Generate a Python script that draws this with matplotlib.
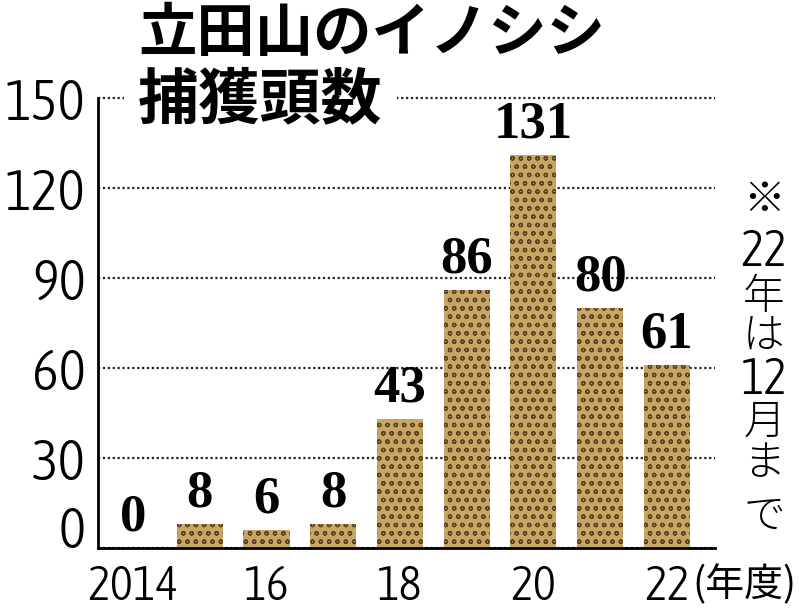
import matplotlib
matplotlib.use("Agg")
import matplotlib.pyplot as plt
from matplotlib import font_manager as fm
import numpy as np

# ---- data ----
years = ["2014", "2015", "2016", "2017", "2018", "2019", "2020", "2021", "2022"]
counts = [0, 8, 6, 8, 43, 86, 131, 80, 61]
xtick_labels = ["2014", "", "16", "", "18", "", "20", "", "22"]
yticks = [0, 30, 60, 90, 120, 150]
title_line1 = "立田山のイノシシ"
title_line2 = "捕獲頭数"
unit_label = "(年度)"
note_parts = ["※", "22", "年", "は", "12", "月", "ま", "で"]

CJK = ["Noto Sans CJK JP", "DejaVu Sans"]
plt.rcParams["hatch.linewidth"] = 0.9

WMAP = {"ultralight": 100, "thin": 100, "extralight": 200, "light": 300,
        "normal": 400, "regular": 400, "book": 400, "medium": 500,
        "semibold": 600, "demibold": 600, "bold": 700, "extrabold": 800,
        "heavy": 900, "black": 900}


def wnum(w):
    try:
        return int(w)
    except (TypeError, ValueError):
        return WMAP.get(str(w).lower(), 400)


# look for the lightest condensed / narrow sans face among installed fonts
cands = []
for f in fm.fontManager.ttflist:
    nm = f.name.lower()
    fn = f.fname.lower()
    is_narrow = ("narrow" in nm or "condensed" in nm or "condensed" in fn
                 or "narrow" in fn or f.stretch in ("condensed", "semi-condensed"))
    if not is_narrow or "mono" in nm or "mono" in fn:
        continue
    if "serif" in nm.replace("sans", "") or "serif" in fn.replace("sans", ""):
        continue
    if f.style != "normal" or "oblique" in fn or "italic" in fn:
        continue
    w = wnum(f.weight)
    if "bold" in fn:
        w = max(w, 700)
    cands.append((abs(w - 330), f.fname))
cands.sort()
if cands:
    narrow_prop = fm.FontProperties(fname=cands[0][1])
else:
    narrow_prop = fm.FontProperties(family="Liberation Sans")

fig = plt.figure(figsize=(8, 6.1), dpi=100)
ax = fig.add_axes([98 / 800, 62 / 610, 617 / 800, 450 / 610])

x = np.arange(len(years))
ax.bar(x, counts, width=0.69, color="#c9a564", edgecolor="#5a4220",
       linewidth=0, hatch="oo", zorder=3)

ax.set_xlim(-0.525, 8.72)
ax.set_ylim(0, 150)

ax.set_yticks(yticks)
ax.set_yticklabels([str(v) for v in yticks])
for t in ax.get_yticklabels():
    t.set_fontproperties(narrow_prop)
    t.set_fontsize(41)
ax.get_yticklabels()[0].set_va("baseline")
ax.set_xticks(x)
ax.set_xticklabels(xtick_labels)
for t in ax.get_xticklabels():
    t.set_fontproperties(narrow_prop)
    t.set_fontsize(35)
ax.tick_params(axis="y", length=0, pad=9)
ax.tick_params(axis="x", length=0, pad=11)

for s in ["top", "right"]:
    ax.spines[s].set_visible(False)
for s in ["left", "bottom"]:
    ax.spines[s].set_linewidth(2)
    ax.spines[s].set_zorder(4)

ax.yaxis.grid(True, linestyle=(0, (1, 1.2)), color="#222222", linewidth=1.6, zorder=1)
for gl in ax.get_ygridlines():
    gl.set_clip_on(False)

# value labels
for xi, v in zip(x, counts):
    ax.annotate(str(v), xy=(xi, v), xytext=(0, 5), textcoords="offset points",
                ha="center", va="bottom", fontsize=38, fontweight="bold",
                family=["Liberation Serif", "DejaVu Serif"], zorder=5)

# unit after last tick
ax.annotate(unit_label, xy=(8, 0), xycoords="data", xytext=(18, -12),
            textcoords="offset points", ha="left", va="top", fontsize=28,
            family=CJK, annotation_clip=False)

# title
fig.text(138 / 800, 1 - 34 / 610, title_line1, ha="left", va="center",
         fontsize=42, fontweight="bold", family=CJK, zorder=10)
fig.text(138 / 800, 1 - 101 / 610, title_line2, ha="left", va="center",
         fontsize=44, fontweight="bold", family=CJK, zorder=10,
         bbox=dict(facecolor="white", edgecolor="none", pad=10))

# vertical note
note_y = [201, 252, 297, 337, 380, 422, 463, 516]
for part, yy in zip(note_parts, note_y):
    if part.isdigit():
        t = fig.text(764 / 800, 1 - yy / 610, part, ha="center", va="center")
        t.set_fontproperties(narrow_prop)
        t.set_fontsize(36)
    else:
        fig.text(764 / 800, 1 - yy / 610, part, ha="center", va="center",
                 fontsize=30, family=CJK, fontweight="light")

fig.savefig("out.png", dpi=100, facecolor="white")
